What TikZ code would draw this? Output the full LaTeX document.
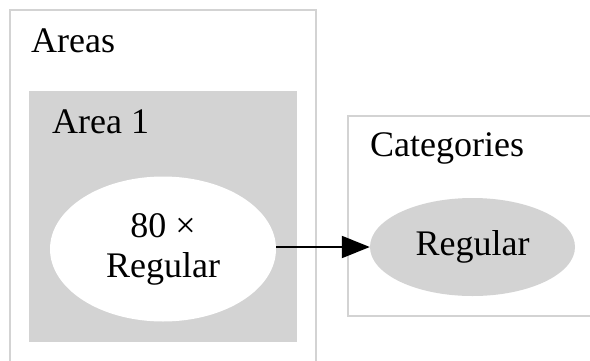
\documentclass[tikz,border=0pt]{standalone}
\usepackage{fontspec}
\setmainfont{Liberation Serif}
\usetikzlibrary{shapes.geometric,arrows.meta}
\definecolor{clgray}{HTML}{D3D3D3}
\tikzset{
  cluster/.style={draw=clgray, line width=2pt},
  clusterfill/.style={fill=clgray, draw=none},
  lbl/.style={anchor=base west, inner sep=0pt, font=\fontsize{36}{40}\selectfont},
  oval/.style={ellipse, inner sep=0pt, font=\fontsize{36}{40}\selectfont, align=center},
  edge/.style={line width=2pt, -{Triangle[length=28pt,width=22pt]}}
}
\begin{document}
\begin{tikzpicture}[x=1pt,y=-1pt]
  \useasboundingbox (0,0) rectangle (590,360);
  % outer cluster (runs past the bottom edge)
  \draw[cluster] (10,10) rectangle (316,375);
  \node[lbl] (areas) at (31,52) {Areas};
  % inner filled cluster
  \fill[clusterfill] (29,91) rectangle (297,342);
  \node[lbl] (area1) at (52,133) {Area 1};
  % right cluster (runs past the right edge)
  \draw[cluster] (348,116) rectangle (605,316);
  \node[lbl] (cats) at (370,156) {Categories};
  % nodes
  \node[oval, fill=white, minimum width=226pt, minimum height=145pt] (src) at (163,249) {80 ×\\Regular};
  \node[oval, fill=clgray, minimum width=205pt, minimum height=98pt] (dst) at (472.5,247) {Regular};
  \draw[edge] (src.east |- dst) -- (dst);
\end{tikzpicture}
\end{document}
